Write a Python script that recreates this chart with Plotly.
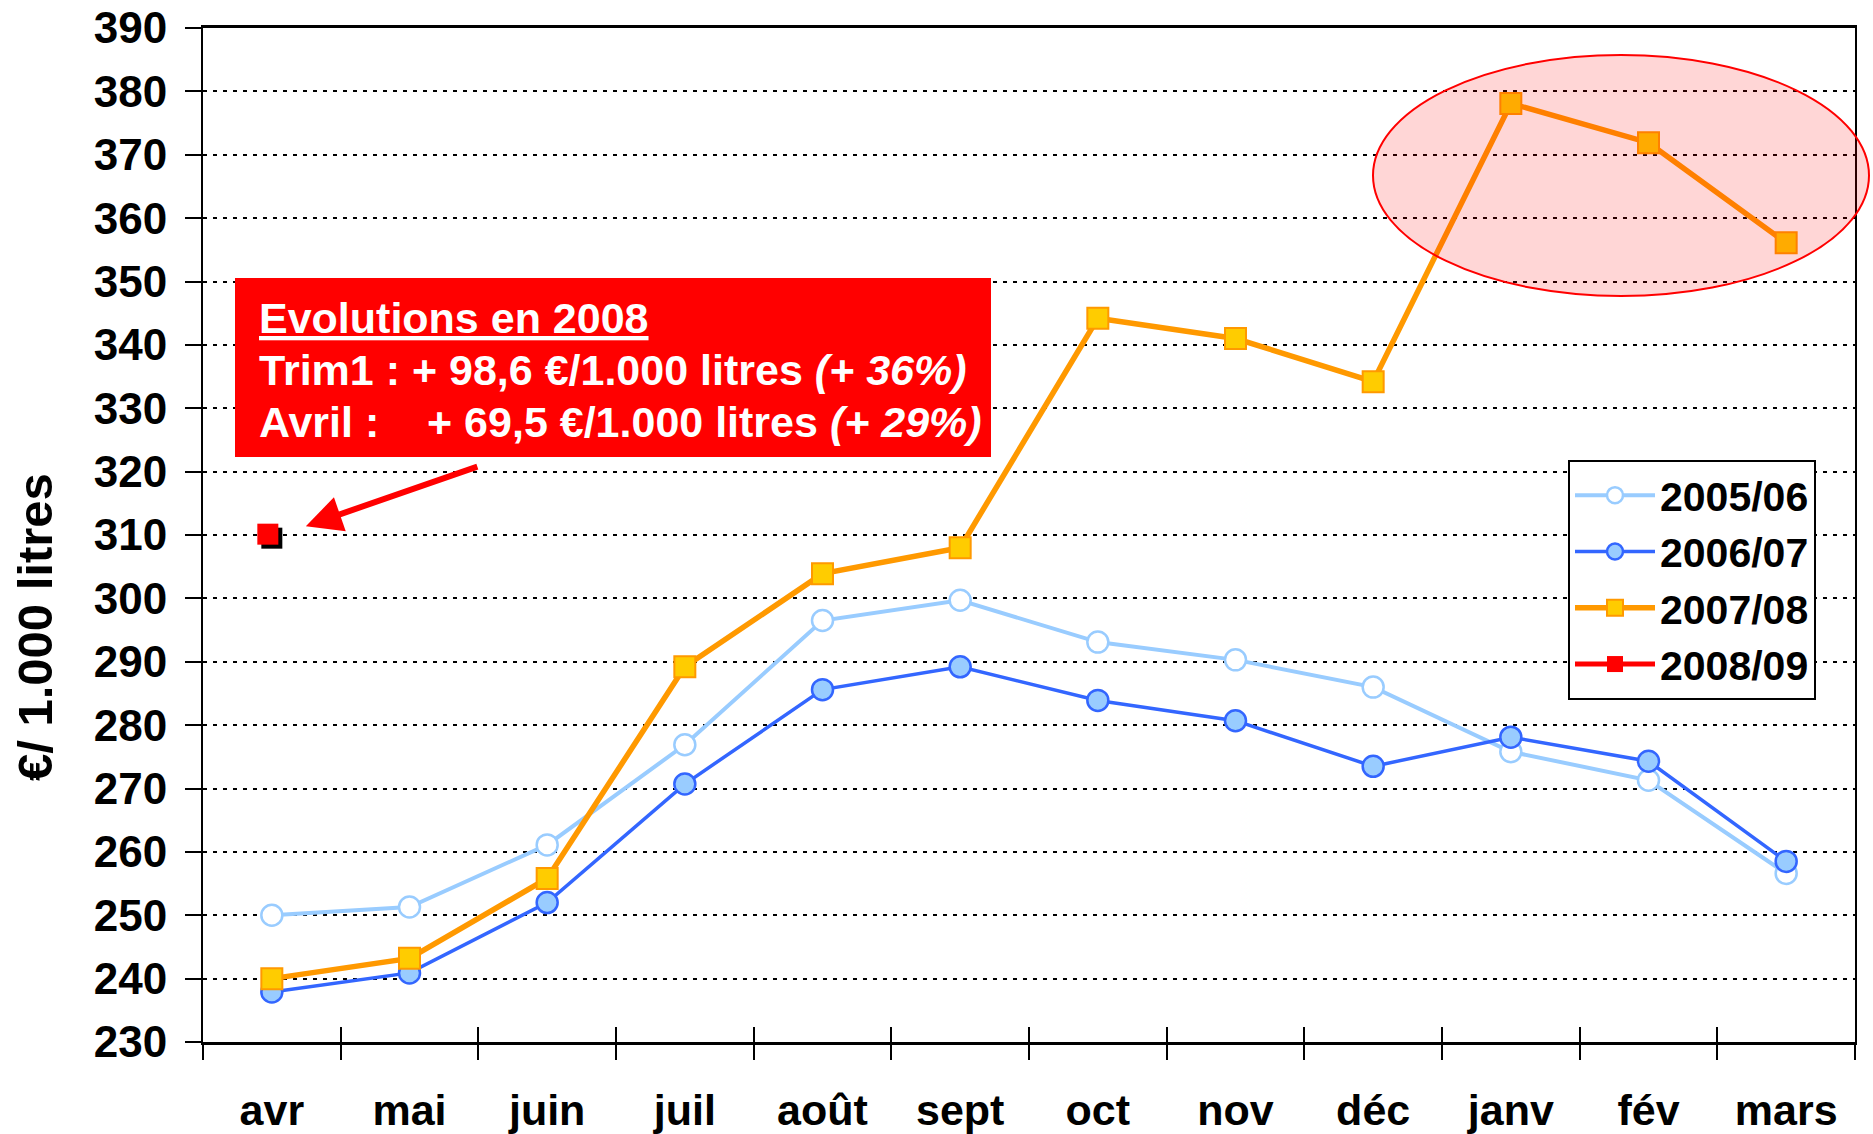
import plotly.graph_objects as go

# ---- data ----
months = ["avr", "mai", "juin", "juil", "août", "sept", "oct", "nov", "déc", "janv", "fév", "mars"]
s_2005_06 = [250.0, 251.3, 261.1, 276.9, 296.5, 299.7, 293.1, 290.3, 286.0, 275.8, 271.3, 256.6]
s_2006_07 = [237.9, 240.9, 252.0, 270.7, 285.6, 289.2, 283.9, 280.7, 273.5, 278.1, 274.3, 258.5]
s_2007_08 = [240.0, 243.2, 255.8, 289.2, 303.9, 308.0, 344.2, 341.0, 334.2, 378.1, 371.9, 356.1]
months_2008_09 = ["avr"]
s_2008_09 = [309.5]
y_tick_vals = list(range(230, 391, 10))

FONT = "Liberation Sans, Arial, sans-serif"
W, H = 1873, 1134
ML, MT = 203, 28
MR = W - 1855
MB = H - 1042
PW, PH = W - ML - MR, H - MT - MB


def px(xs):
    """screen x -> paper x"""
    return (xs - ML) / PW


def py(ys):
    """screen y -> paper y"""
    return (H - MB - ys) / PH


fig = go.Figure()

fig.add_trace(go.Scatter(
    x=months, y=s_2005_06, name="2005/06", mode="lines+markers",
    line=dict(color="#99CCFF", width=4),
    marker=dict(symbol="circle", size=21, color="white", line=dict(color="#99CCFF", width=2.5)),
))
fig.add_trace(go.Scatter(
    x=months, y=s_2006_07, name="2006/07", mode="lines+markers",
    line=dict(color="#3366FF", width=3.5),
    marker=dict(symbol="circle", size=21, color="#99CCFF", line=dict(color="#3366FF", width=2.5)),
))
fig.add_trace(go.Scatter(
    x=months, y=s_2007_08, name="2007/08", mode="lines+markers",
    line=dict(color="#FF9900", width=5.5),
    marker=dict(symbol="square", size=21, color="#FFCC00", line=dict(color="#FF9900", width=2)),
))
# shadow of 2008/09 point (on main axes, drawn below)
fig.add_trace(go.Scatter(
    x=months_2008_09, y=s_2008_09, mode="markers", showlegend=False, hoverinfo="skip",
    marker=dict(symbol="square", size=21, color="black", line=dict(width=0)),
))
# 2008/09 point on overlay axes shifted a few pixels up-left
idx_0809 = [months.index(m) for m in months_2008_09]
fig.add_trace(go.Scatter(
    x=idx_0809, y=s_2008_09, name="2008/09", mode="lines+markers",
    xaxis="x3", yaxis="y2",
    line=dict(color="#FF0000", width=5),
    marker=dict(symbol="square", size=21, color="#FF0000", line=dict(color="#FF0000", width=0)),
))

dx = 4 / (PW / 12)
dy = 4 / (PH / 160)

fig.update_layout(
    width=W, height=H,
    margin=dict(l=ML, r=MR, t=MT, b=MB, autoexpand=False),
    paper_bgcolor="white", plot_bgcolor="white",
    font=dict(family=FONT, color="black"),
    xaxis=dict(
        type="category", categoryorder="array", categoryarray=months,
        range=[-0.5, 11.5], automargin=False,
        tickson="boundaries", ticks="outside", ticklen=15, tickwidth=2, tickcolor="black",
        showline=True, linecolor="black", linewidth=3, mirror=True,
        showgrid=False, zeroline=False,
        tickfont=dict(family=FONT, size=43, color="black", weight="bold"),
        ticklabelstandoff=28,
    ),
    xaxis2=dict(
        overlaying="x", anchor="y", type="linear", range=[-0.5, 11.5], automargin=False,
        tickvals=[i - 0.5 for i in range(13)], ticks="inside", ticklen=15, tickwidth=2,
        tickcolor="black", showticklabels=False, showline=False, showgrid=False, zeroline=False,
    ),
    xaxis3=dict(
        overlaying="x", anchor="y2", type="linear", range=[-0.5 + dx, 11.5 + dx],
        visible=False, automargin=False,
    ),
    yaxis=dict(
        range=[230, 390], tickvals=y_tick_vals, automargin=False,
        ticks="outside", ticklen=16, tickwidth=2, tickcolor="black",
        showline=True, linecolor="black", linewidth=2, mirror=True,
        showgrid=True, gridcolor="black", gridwidth=2, griddash="4px,6px",
        zeroline=False,
        tickfont=dict(family=FONT, size=44, color="black", weight="bold"),
        ticklabelstandoff=9,
    ),
    yaxis2=dict(
        overlaying="y", anchor="x3", range=[230 - dy, 390 - dy], visible=False, automargin=False,
    ),
    legend=dict(
        x=px(1568), y=py(460), xanchor="left", yanchor="top",
        bgcolor="white", bordercolor="black", borderwidth=2,
        font=dict(family=FONT, size=41, color="black", weight="bold"),
        itemwidth=80, tracegroupgap=0,
    ),
    showlegend=True,
)

# highlight ellipse
fig.add_shape(
    type="circle", xref="paper", yref="paper",
    x0=px(1373), x1=px(1869), y0=py(296), y1=py(55),
    fillcolor="rgba(255,0,0,0.16)", line=dict(color="#FF0000", width=2), layer="above",
)

# red info box
fig.add_shape(
    type="rect", xref="paper", yref="paper",
    x0=px(235), x1=px(991), y0=py(457), y1=py(278),
    fillcolor="#FF0000", line=dict(width=0), layer="above",
)

box_lines = [
    "<b><u>Evolutions en 2008</u></b>",
    "<b>Trim1 : + 98,6 €/1.000 litres <i>(+ 36%)</i></b>",
    "<b>Avril :\u00a0\u00a0\u00a0 + 69,5 €/1.000 litres <i>(+ 29%)</i></b>",
]
line_centers = [318, 370, 422]
for t, yc in zip(box_lines, line_centers):
    fig.add_annotation(
        xref="paper", yref="paper", x=px(257), y=py(yc), xanchor="left", yanchor="middle",
        text=t, showarrow=False, font=dict(family=FONT, size=43, color="white"),
    )

# arrow
fig.add_annotation(
    xref="x2", yref="y", x=0.247, y=311.4, ax=173, ay=-60, axref="pixel", ayref="pixel",
    text="", showarrow=True, arrowhead=2, arrowsize=1.2, arrowwidth=6, arrowcolor="#FF0000",
    standoff=0,
)

# y-axis title
fig.add_annotation(
    xref="paper", yref="paper", x=px(35), y=py(627), xanchor="center", yanchor="middle",
    text="<b>€/ 1.000 litres</b>", textangle=-90, showarrow=False,
    font=dict(family=FONT, size=49, color="black"),
)

fig.write_html(
    "out.html",
    config={"displayModeBar": False},
    post_script="document.body.style.margin='0';document.body.style.overflow='hidden';",
)
